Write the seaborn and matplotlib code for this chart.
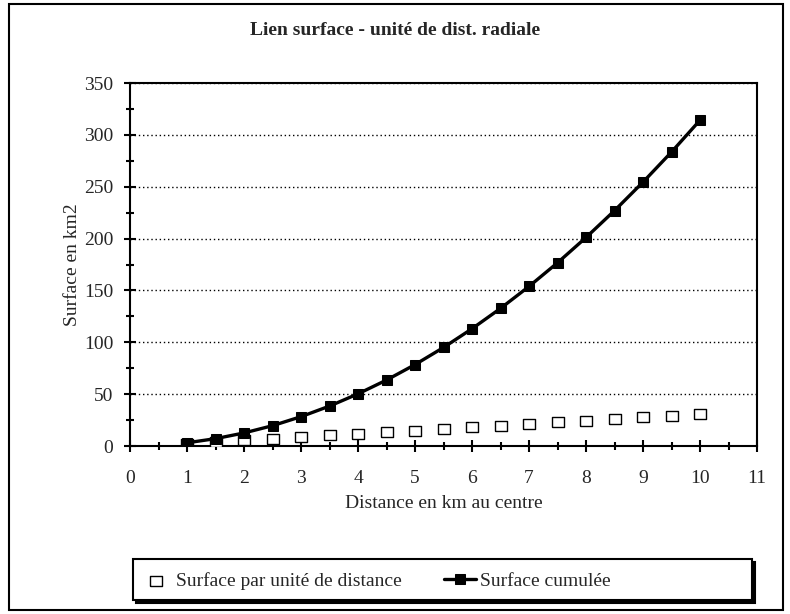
import matplotlib
matplotlib.use("Agg")
import matplotlib.pyplot as plt
import matplotlib.patches as patches
from matplotlib.ticker import MultipleLocator
import pandas as pd
import seaborn as sns

# -----------------------------
# Data
# -----------------------------
distance = [1, 1.5, 2, 2.5, 3, 3.5, 4, 4.5, 5, 5.5, 6, 6.5, 7, 7.5, 8, 8.5, 9, 9.5, 10]
surface_unite = [2.4, 3.9, 5.5, 7.1, 8.6, 10.2, 11.8, 13.4, 14.9, 16.5, 18.1, 19.6,
                 21.2, 22.8, 24.3, 25.9, 27.5, 29.1, 30.6]
surface_cumulee = [3.1, 7.1, 12.6, 19.6, 28.3, 38.5, 50.3, 63.6, 78.5, 95.0, 113.1,
                   132.7, 153.9, 176.7, 201.1, 227.0, 254.5, 283.5, 314.2]

df = pd.DataFrame({"distance": distance,
                   "unite": surface_unite,
                   "cumulee": surface_cumulee})

sns.set_style("white")
plt.rcParams["font.family"] = ["Liberation Serif", "DejaVu Serif"]
FS = 14

fig = plt.figure(figsize=(7.9, 6.14), dpi=100)
ax = fig.add_axes([0.1646, 0.2736, 0.7937, 0.5912])

# slightly wide open rectangles, like the original markers
rect = [(-1.25, -0.9), (1.25, -0.9), (1.25, 0.9), (-1.25, 0.9), (-1.25, -0.9)]

# open squares first so the cumulative line sits on top
sns.scatterplot(data=df, x="distance", y="unite", ax=ax, marker=rect, s=85,
                facecolor="white", edgecolor="black", linewidth=1,
                label="Surface par unité de distance", zorder=3)
sns.lineplot(data=df, x="distance", y="cumulee", ax=ax, color="black",
             linewidth=2.4, marker="s", markersize=7.8, markerfacecolor="black",
             markeredgecolor="black", label="Surface cumulée", zorder=4)

ax.set_xlim(0, 11)
ax.set_ylim(0, 350)
ax.xaxis.set_major_locator(MultipleLocator(1))
ax.xaxis.set_minor_locator(MultipleLocator(0.5))
ax.yaxis.set_major_locator(MultipleLocator(50))
ax.yaxis.set_minor_locator(MultipleLocator(25))
ax.tick_params(axis="both", which="both", bottom=True, left=True,
               direction="inout", width=1.5, color="black")
ax.tick_params(axis="both", which="major", length=8, labelsize=FS)
ax.tick_params(axis="both", which="minor", length=6)
ax.tick_params(axis="x", which="major", pad=13)
ax.tick_params(axis="y", which="major", pad=8)
ax.grid(axis="y", which="major", linestyle=(0, (1, 2)), color="black", linewidth=1)
ax.grid(axis="x", visible=False)
for s in ax.spines.values():
    s.set_color("black")
    s.set_linewidth(1.5)

ax.set_xlabel("Distance en km au centre", fontsize=FS, labelpad=6)
ax.set_ylabel("Surface en km2", fontsize=FS, labelpad=2)
fig.text(0.5, 0.951, "Lien surface - unité de dist. radiale", ha="center",
         va="center", fontsize=FS, fontweight="bold")

# legend at the bottom, entries packed to the left inside a boxed strip
handles, labels = ax.get_legend_handles_labels()
ax.get_legend().remove()
fig.legend(handles, labels, loc="center left", ncol=2,
           bbox_to_anchor=(0.177, 0.0535), fontsize=FS, frameon=False,
           handlelength=1.65, handletextpad=0.2, columnspacing=2.2,
           borderpad=0, borderaxespad=0)

lx, ly, lw, lh = 133 / 790, 14 / 614, 619 / 790, 41 / 614
fig.patches.append(patches.Rectangle((lx + 3 / 790, ly - 3 / 614), lw, lh,
                                     transform=fig.transFigure, facecolor="black",
                                     edgecolor="black", linewidth=1.5, zorder=1))
fig.patches.append(patches.Rectangle((lx, ly), lw, lh, transform=fig.transFigure,
                                     facecolor="white", edgecolor="black",
                                     linewidth=1.5, zorder=2))

# outer chart border
fig.patches.append(patches.Rectangle((0.011, 0.006), 0.98, 0.988,
                                     transform=fig.transFigure, fill=False,
                                     edgecolor="black", linewidth=1.5))

plt.savefig("out.png", dpi=100)
plt.close()
